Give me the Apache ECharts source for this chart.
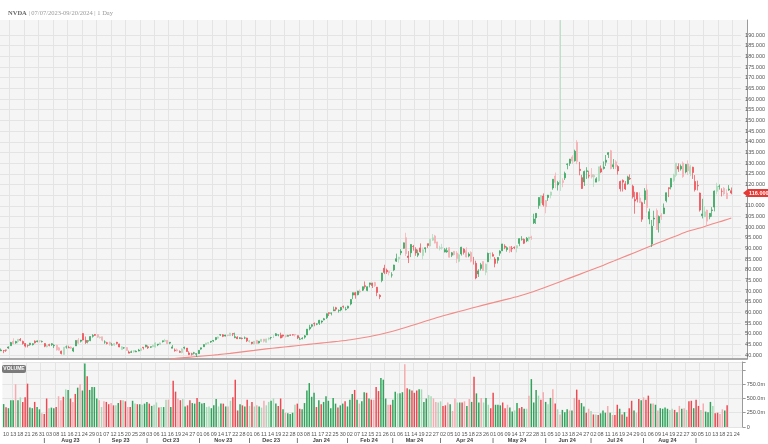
<!DOCTYPE html>
<html><head><meta charset="utf-8">
<script src="https://cdn.jsdelivr.net/npm/echarts@6/dist/echarts.min.js"></script>
<style>html,body{margin:0;padding:0;background:#fff}#c{width:768px;height:444px}</style>
</head><body><div id="c"></div>
<script>
// ---- DATA ----
const tradingDays = [
 '2023-07:7 10 11 12 13 14 17 18 19 20 21 24 25 26 27 28 31',
 '2023-08:1 2 3 4 7 8 9 10 11 14 15 16 17 18 21 22 23 24 25 28 29 30 31',
 '2023-09:1 5 6 7 8 11 12 13 14 15 18 19 20 21 22 25 26 27 28 29',
 '2023-10:2 3 4 5 6 9 10 11 12 13 16 17 18 19 20 23 24 25 26 27 30 31',
 '2023-11:1 2 3 6 7 8 9 10 13 14 15 16 17 20 21 22 24 27 28 29 30',
 '2023-12:1 4 5 6 7 8 11 12 13 14 15 18 19 20 21 22 26 27 28 29',
 '2024-01:2 3 4 5 8 9 10 11 12 16 17 18 19 22 23 24 25 26 29 30 31',
 '2024-02:1 2 5 6 7 8 9 12 13 14 15 16 20 21 22 23 26 27 28',
 '2024-03:1 4 5 6 7 8 11 12 13 14 15 18 19 20 21 22 25 26 27 28',
 '2024-04:1 2 3 4 5 8 9 10 11 12 15 16 17 18 19 22 23 24 25 26 29 30',
 '2024-05:1 2 3 6 7 8 9 10 13 14 15 16 17 20 21 22 23 24 28 29 30 31',
 '2024-06:3 4 5 6 7 10 11 12 13 14 17 18 20 21 24 25 26 27 28',
 '2024-07:1 2 3 5 8 9 10 11 12 15 16 17 18 19 22 23 24 25 26 29 30 31',
 '2024-08:1 2 5 6 7 8 9 12 13 14 15 16 19 20 21 22 23 26 27 28 29 30',
 '2024-09:3 4 5 6 9 10 11 12 13 16 17 18 19 20'
];
const blankDays = ['2024-09-21','2024-09-22','2024-09-23','2024-09-24','2024-09-25','2024-09-26'];

const opens = [
 42.1,42.2,42.5,43.4,44.5,46.6,45.8,46.4,47.4,46.5,45.5,44.7,44.9,45.0,46.6,46.4,46.8,
 46.4,45.5,44.0,45.0,45.0,44.5,44.7,43.5,41.9,40.4,43.9,43.6,43.9,42.0,44.4,47.2,46.6,50.2,47.0,46.6,46.9,48.9,49.7,
 49.7,48.2,48.7,46.2,45.9,46.1,44.8,44.8,46.1,45.3,42.7,43.5,43.6,41.5,41.4,41.6,41.6,42.0,42.2,43.8,
 44.0,44.0,43.8,44.0,43.9,44.9,45.0,46.4,46.6,47.0,45.7,43.3,42.5,42.6,41.8,41.3,43.4,43.4,41.1,40.7,41.0,40.5,
 40.8,42.9,44.0,45.0,45.6,46.2,46.7,47.4,48.0,49.5,49.6,49.0,49.5,49.2,50.2,48.3,48.5,47.9,48.0,48.1,48.1,
 46.5,46.2,45.4,47.0,45.8,46.6,47.6,46.1,47.6,48.3,48.1,49.2,49.6,49.4,49.5,49.2,48.9,49.5,49.6,49.8,
 49.2,47.5,47.7,48.5,49.5,52.4,53.6,54.9,54.6,55.0,55.6,56.6,57.7,59.9,59.7,60.8,62.3,60.9,61.2,62.9,61.4,
 62.1,64.0,68.2,69.3,68.4,70.1,70.5,72.6,70.4,73.2,73.8,74.1,71.9,68.1,75.0,80.8,79.8,79.3,77.6,
 80.0,84.1,85.2,88.0,90.1,95.1,86.5,88.0,91.0,89.6,86.9,90.3,86.7,89.9,92.3,91.2,93.9,95.9,93.1,90.0,
 90.3,88.4,88.5,90.4,86.9,88.7,87.9,84.0,87.5,89.7,89.0,86.5,88.2,84.9,83.1,78.1,80.7,83.9,78.9,83.8,87.6,87.2,
 85.1,84.5,87.8,89.0,91.1,89.5,90.8,90.2,90.6,90.3,92.4,94.3,94.3,93.6,94.4,95.4,102.0,104.4,110.2,111.3,114.6,112.5,
 113.9,115.0,118.4,124.0,119.8,120.4,121.8,123.1,129.4,129.9,132.9,131.1,139.8,127.1,123.2,121.2,126.1,124.1,124.6,
 123.5,121.1,121.7,127.4,127.5,130.4,134.0,135.8,128.3,130.6,128.4,121.4,121.9,120.3,120.4,122.8,119.2,113.0,116.2,113.7,111.5,112.9,
 117.5,103.8,92.1,103.8,107.8,102.0,105.6,106.3,112.4,118.5,118.8,121.9,124.3,128.4,127.3,130.0,125.9,129.6,125.1,128.1,121.4,119.5,
 116.0,105.4,104.9,108.0,104.9,107.8,109.4,116.8,119.1,116.8,118.2,115.9,117.4,117.1
];
const highs = [
 43.2,42.5,42.6,44.2,46.3,48.0,46.8,47.6,48.1,46.9,45.7,45.0,45.8,45.6,47.0,47.0,46.9,
 46.9,45.7,45.0,45.4,45.7,45.2,44.9,43.9,42.2,43.8,44.6,44.5,44.2,43.7,47.0,48.1,47.2,50.3,48.8,47.1,49.0,49.9,50.0,
 49.9,48.8,48.7,47.0,46.3,46.4,45.8,45.7,46.3,45.4,44.2,43.9,43.9,42.2,42.2,42.3,42.3,43.0,43.2,43.9,
 44.9,44.6,44.1,44.9,46.1,45.3,46.1,46.9,47.7,47.1,46.2,44.8,43.2,43.2,42.3,43.3,44.1,43.4,41.9,41.2,41.6,41.0,
 42.4,43.6,45.1,45.8,46.2,46.7,47.1,48.4,48.8,49.9,49.9,49.6,49.5,50.5,50.2,50.6,48.9,48.5,48.3,48.8,48.2,
 47.2,46.2,46.7,47.2,46.7,47.6,47.6,47.8,48.3,48.6,49.4,50.4,49.7,50.6,49.6,49.3,49.6,49.7,49.8,49.9,
 49.3,48.5,48.5,49.5,52.3,54.3,54.6,55.4,55.0,56.6,56.3,57.5,59.6,60.1,60.0,62.8,62.7,61.5,62.6,63.3,62.7,
 63.2,66.3,69.4,69.7,70.2,70.9,72.2,74.6,72.2,74.0,74.0,74.4,72.0,68.6,78.6,82.4,80.6,79.6,78.9,
 82.4,87.6,86.1,89.7,92.8,97.4,88.8,92.0,91.7,90.6,89.5,92.4,90.5,90.5,92.3,94.7,96.8,96.4,93.2,91.3,
 92.2,90.2,90.4,90.6,88.4,88.8,88.8,87.5,90.8,90.1,90.6,88.2,88.7,86.1,84.3,80.3,83.3,84.0,83.0,88.1,88.1,88.2,
 86.0,86.0,89.2,92.2,92.0,91.0,91.0,91.2,91.0,91.5,94.8,95.8,94.7,95.4,95.5,96.0,106.3,106.5,114.0,115.0,115.8,112.7,
 115.1,116.6,122.5,125.6,121.7,197.0,122.9,126.0,129.9,132.0,133.7,136.3,140.8,130.6,124.5,126.5,128.1,126.4,127.7,
 124.8,123.4,128.3,128.9,130.8,133.8,135.1,136.2,131.9,131.4,129.0,121.8,122.4,121.6,124.1,124.7,119.9,116.6,116.2,116.3,112.0,118.3,
 120.2,108.7,103.4,107.7,108.8,105.5,106.6,111.1,116.2,118.6,123.0,125.0,130.0,129.9,129.4,130.8,129.6,131.3,129.2,128.3,124.4,121.8,
 116.2,113.3,109.7,108.2,106.6,109.4,117.2,120.8,120.0,118.2,118.8,117.7,119.7,118.6
];
const lows = [
 42.0,41.0,41.6,43.0,44.5,45.2,45.4,45.6,46.6,45.0,43.7,43.7,44.5,44.6,45.5,46.1,46.0,
 46.0,43.8,43.7,44.2,44.4,43.4,42.2,42.2,40.4,40.3,43.1,43.4,43.0,41.5,44.4,45.3,46.0,47.0,45.3,45.6,46.6,48.3,49.1,
 48.1,47.8,46.5,45.4,45.1,44.5,44.6,44.4,45.1,43.8,42.7,43.0,42.2,41.0,41.1,41.2,41.5,41.9,42.0,42.7,
 43.7,43.0,43.4,43.8,43.6,44.3,44.9,46.0,46.3,45.3,45.2,43.3,41.7,41.8,41.1,40.9,42.8,41.7,40.1,39.9,40.4,39.2,
 40.6,42.6,43.9,44.8,45.2,45.8,46.3,47.0,47.8,49.1,48.5,48.8,48.9,49.0,49.0,48.0,47.6,47.6,47.5,47.6,46.2,
 45.9,45.1,45.1,45.4,45.5,46.2,46.0,46.0,47.0,47.4,48.1,49.1,48.9,48.0,48.3,48.3,48.8,49.1,49.3,48.8,
 47.6,47.3,47.5,47.8,49.5,51.7,53.0,53.6,54.1,54.2,54.9,56.4,57.0,58.4,58.7,60.8,60.7,60.0,60.6,62.0,61.0,
 61.8,63.4,66.3,66.5,68.1,69.1,70.1,71.2,70.0,71.8,71.5,72.0,67.7,66.3,74.2,78.0,78.1,77.4,76.4,
 79.4,83.7,83.4,86.9,89.9,86.5,83.2,86.0,89.0,86.6,86.0,88.0,85.0,88.1,90.3,91.1,93.6,92.4,89.9,89.1,
 89.5,88.2,88.0,85.8,86.0,86.8,83.2,83.6,86.7,87.2,85.8,85.9,83.5,82.5,75.6,76.7,79.7,79.6,77.5,83.8,85.2,86.3,
 81.2,83.0,86.6,88.8,89.7,88.5,87.9,88.3,89.7,88.2,91.1,93.7,92.1,93.0,93.2,94.0,101.5,101.5,108.6,110.0,109.7,106.5,
 112.3,113.5,117.5,118.3,117.2,117.0,118.7,122.1,127.1,128.7,129.6,130.7,129.5,124.3,117.9,119.3,122.6,122.9,122.8,
 118.8,121.1,121.4,125.3,127.0,128.7,132.4,127.1,127.2,127.2,124.6,116.7,116.7,117.4,119.9,122.1,113.4,106.3,111.6,111.3,102.5,110.9,
 106.8,101.4,90.7,100.6,98.7,97.5,103.4,106.3,111.6,114.1,117.7,121.2,123.4,125.9,126.5,123.1,125.2,124.4,123.9,122.6,116.7,117.2,
 107.3,104.1,104.8,100.9,103.7,104.9,107.4,115.4,117.6,114.4,114.8,113.2,117.0,115.4
];
const closes = [
 42.50,42.18,42.41,43.90,45.98,45.47,46.46,47.49,47.08,45.52,44.31,44.61,45.68,45.45,45.90,46.75,46.73,
 46.51,44.27,44.52,44.68,45.42,44.66,42.55,42.39,40.86,43.75,43.94,43.48,43.34,43.30,46.97,45.67,47.12,47.16,46.02,46.84,48.78,49.26,49.36,
 48.51,48.55,47.06,46.24,45.57,45.18,44.87,45.49,45.58,43.90,43.97,43.52,42.24,41.02,41.61,42.22,41.91,42.47,43.09,43.50,
 44.78,43.52,44.04,44.69,45.76,45.27,45.80,46.81,46.95,45.46,46.10,43.94,42.20,42.10,41.39,42.98,43.66,41.78,40.33,40.50,41.16,40.78,
 42.33,43.51,45.01,45.75,45.96,46.57,46.95,48.34,48.62,49.66,48.89,49.48,49.30,50.41,49.94,48.72,47.78,48.24,47.82,48.14,46.77,
 46.77,45.51,46.57,45.50,46.60,47.51,46.63,47.66,48.09,48.35,48.89,50.08,49.60,48.11,48.99,48.83,49.28,49.42,49.52,49.52,
 48.17,47.57,48.00,49.10,52.25,53.14,54.35,54.82,54.71,56.38,56.05,57.11,59.49,59.65,59.87,61.36,61.62,61.03,62.47,62.77,61.53,
 63.03,66.16,69.33,68.22,70.10,69.64,72.13,72.25,72.13,73.90,72.66,72.61,69.45,67.47,78.54,78.82,79.09,78.70,77.66,
 82.28,85.24,85.96,88.70,92.67,87.53,85.77,91.91,90.89,87.94,87.84,88.46,89.40,90.37,91.44,94.29,95.00,92.56,90.25,90.36,
 90.36,89.45,88.96,85.91,88.01,87.13,85.35,87.04,90.62,88.19,86.00,87.42,84.04,84.67,76.20,79.52,82.42,79.68,82.63,87.74,87.76,86.40,
 83.04,85.82,88.79,92.14,90.55,90.41,88.75,89.88,90.40,91.36,94.63,94.36,92.48,94.78,95.39,94.95,103.80,106.47,113.90,114.83,110.50,109.63,
 115.00,116.44,122.44,121.00,120.89,121.79,120.91,125.20,129.61,131.88,130.98,135.58,130.78,126.57,118.11,126.09,126.40,123.99,123.54,
 124.30,122.67,128.28,125.83,128.20,131.38,134.91,127.40,129.24,128.44,126.36,117.99,121.09,117.93,123.54,122.59,114.25,112.28,113.06,111.59,103.73,117.02,
 109.21,107.27,100.45,104.25,98.91,104.97,104.75,109.02,116.14,118.08,122.86,124.58,130.00,127.25,128.50,123.74,129.37,126.46,128.30,125.61,117.59,119.37,
 108.00,106.21,107.21,102.83,106.47,108.10,116.91,119.14,119.10,116.78,115.59,113.37,117.87,116.00
];
// volume in millions
const volumes = [
 402,345,330,470,470,750,470,520,440,520,760,340,330,440,350,310,240,
 230,500,330,340,330,350,540,470,530,660,650,500,440,580,690,750,640,1115,890,650,700,700,500,
 470,350,450,440,400,420,380,380,420,470,470,450,350,350,460,410,400,400,390,410,
 440,410,370,390,430,340,350,350,480,480,350,810,620,500,470,490,360,380,470,420,410,510,
 440,410,420,350,360,330,380,490,360,410,410,360,360,460,520,830,290,400,380,360,480,
 370,440,360,380,360,340,460,380,440,460,500,410,370,500,310,250,240,230,250,390,
 410,320,310,420,640,770,530,600,350,470,400,440,540,460,330,510,410,340,380,410,450,
 360,480,580,650,480,410,450,610,600,500,480,480,700,630,860,830,500,390,390,
 480,620,590,590,610,1100,680,660,640,600,640,660,660,440,500,560,540,500,440,430,
 450,370,380,430,400,280,500,430,430,430,450,370,490,440,880,590,430,510,430,510,390,330,
 600,390,390,380,430,330,390,340,270,290,420,330,350,320,320,550,840,430,650,550,480,610,
 440,400,510,660,410,310,220,300,260,310,290,290,510,655,480,420,360,250,320,
 280,220,220,210,240,290,250,370,250,210,210,390,320,220,260,180,330,460,290,250,490,470,
 520,480,550,410,410,390,290,330,320,340,320,300,320,300,260,370,320,330,300,450,460,330,
 480,370,300,410,270,260,440,370,240,250,230,310,290,380
];
// 200-day moving average, read at sampled dates
const maDates = ['2023-10-16','2023-10-23','2023-10-30','2023-11-06','2023-11-13','2023-11-20','2023-11-28',
 '2023-12-05','2023-12-12','2023-12-19','2023-12-27','2024-01-04','2024-01-11','2024-01-19','2024-01-26',
 '2024-02-02','2024-02-09','2024-02-16','2024-02-26','2024-03-05','2024-03-12','2024-03-19','2024-03-26',
 '2024-04-03','2024-04-10','2024-04-17','2024-04-24','2024-05-01','2024-05-08','2024-05-15','2024-05-22',
 '2024-05-30','2024-06-06','2024-06-13','2024-06-21','2024-06-28','2024-07-08','2024-07-15','2024-07-22',
 '2024-07-29','2024-08-05','2024-08-12','2024-08-19','2024-08-26','2024-09-03','2024-09-10','2024-09-17','2024-09-20'];
const maValues = [38.3,38.8,39.3,39.8,40.3,40.9,41.6,
 42.3,43.0,43.6,44.2,44.8,45.4,46.0,46.6,
 47.3,48.2,49.3,50.6,52.1,53.8,55.6,57.4,
 59.0,60.5,62.0,63.5,64.9,66.3,67.8,69.5,
 71.5,73.6,75.8,77.9,80.1,82.2,84.5,86.8,
 89.1,91.4,93.7,95.9,98.1,99.6,101.5,103.2,104.3];
const yTickMin = 40, yTickMax = 190, yTickStep = 5;
const volTickStep = 250;

// ---- BUILD ----
const cats = [];
tradingDays.forEach(s => { const [ym, ds] = s.split(':'); ds.split(' ').forEach(d => cats.push(ym + '-' + String(d).padStart(2,'0'))); });
const nData = cats.length;
blankDays.forEach(d => cats.push(d));

const GREEN = '#2fa35a', GREEN_L = '#a6d9b6', RED = '#ec4a52', RED_L = '#f5abb0';
const candleData = [], volData = [];
for (let i = 0; i < nData; i++) {
  const o = opens[i], c = closes[i], l = lows[i], h = highs[i];
  const prev = i > 0 ? closes[i-1] : o;
  const pale = i > 0 && Math.sign(o - prev) !== Math.sign(c - prev);
  const cUp = c >= o, vUp = c >= prev;
  const cc = cUp ? (pale ? GREEN_L : GREEN) : (pale ? RED_L : RED);
  const vc = vUp ? (pale ? GREEN_L : GREEN) : (pale ? RED_L : RED);
  candleData.push({ value: [o, c, l, h], itemStyle: { color: cc, color0: cc, borderColor: cc, borderColor0: cc } });
  volData.push({ value: volumes[i], itemStyle: { color: vc } });
}
const maData = cats.map(() => null);
maDates.forEach((d, k) => { const idx = cats.indexOf(d); if (idx >= 0) maData[idx] = maValues[k]; });

// month row labels
const MN = ['Jan','Feb','Mar','Apr','May','Jun','Jul','Aug','Sep','Oct','Nov','Dec'];
const months = [];
cats.forEach((c, i) => { const k = c.slice(0,7); if (!months.length || months[months.length-1].k !== k) months.push({k, s:i, e:i}); else months[months.length-1].e = i; });
const monthLabels = {};
months.forEach((m, j) => {
  if (j >= 1) monthLabels[m.s] = '|';
  if (j >= 1 && j <= months.length - 2) {
    const mid = Math.floor((m.s + m.e) / 2);
    monthLabels[mid] = MN[+m.k.slice(5,7) - 1] + ' ' + m.k.slice(2,4);
  }
});
const gridInt = (i) => i % 6 === 4;
const FONT = 'Liberation Sans';
const chart = echarts.init(document.getElementById('c'), null, { renderer: 'canvas' });
const splitStyle = { color: '#e4e4e4', width: 1 };
chart.setOption({
  animation: false,
  backgroundColor: '#ffffff',
  title: { text: '{b|NVDA} | 07/07/2023-09/20/2024 | 1 Day', left: 3, top: 5,
    textStyle: { fontFamily: 'Liberation Serif', fontSize: 6.5, color: '#9a9a9a', fontWeight: 'normal',
      rich: { b: { fontFamily: 'Liberation Serif', fontSize: 6.5, fontWeight: 'bold', color: '#666' } } } },
  grid: [
    { left: 0, right: 21, top: 20, bottom: 85, show: true, backgroundColor: '#f5f5f5', borderWidth: 0 },
    { left: 0, right: 21, top: 362, bottom: 17, show: true, backgroundColor: '#f5f5f5', borderWidth: 0 },
    { left: 0, right: 21, top: 35, bottom: 88.7, show: false }
  ],
  xAxis: [
    { type: 'category', gridIndex: 0, data: cats, boundaryGap: true, axisLabel: { show: false }, axisTick: { show: false },
      axisLine: { show: true, lineStyle: { color: '#8f8f8f', width: 1.5 } }, splitLine: { show: true, interval: gridInt, lineStyle: splitStyle } },
    { type: 'category', gridIndex: 1, data: cats, boundaryGap: true, axisTick: { show: false }, axisLine: { show: false },
      axisLabel: { interval: (i) => i % 3 === 1, formatter: (v) => v.slice(8), fontSize: 5.5, color: '#555', margin: 4, fontFamily: FONT },
      splitLine: { show: true, interval: gridInt, lineStyle: splitStyle } },
    { type: 'category', gridIndex: 1, data: cats, boundaryGap: true, position: 'bottom', offset: 6, axisTick: { show: false }, axisLine: { show: false },
      axisLabel: { interval: (i) => monthLabels[i] !== undefined, formatter: (v, i) => monthLabels[i] || '', fontSize: 5.5, fontWeight: 'bold', color: '#444', margin: 4, fontFamily: FONT } },
    { type: 'category', gridIndex: 2, data: cats, show: false }
  ],
  yAxis: [
    { type: 'value', gridIndex: 0, min: 38.27, max: 197.03, position: 'right', axisLabel: { show: false }, splitLine: { show: false },
      axisTick: { show: false }, axisLine: { show: true, lineStyle: { color: '#9a9a9a' } } },
    { type: 'value', gridIndex: 1, min: 0, max: 1140, interval: volTickStep, position: 'right',
      axisLabel: { formatter: (v) => v === 0 ? '0' : (v >= 1000 ? '' : v.toFixed(1) + 'm'), fontSize: 5.5, color: '#555', margin: 4, fontFamily: FONT },
      splitLine: { lineStyle: splitStyle }, axisTick: { show: true, length: 3, lineStyle: { color: '#9a9a9a' } },
      axisLine: { show: true, lineStyle: { color: '#9a9a9a' } } },
    { type: 'value', gridIndex: 2, min: yTickMin, max: yTickMax, interval: yTickStep, position: 'right',
      axisLabel: { formatter: (v) => v.toFixed(3), fontSize: 5.5, color: '#555', margin: 4, fontFamily: FONT },
      splitLine: { lineStyle: splitStyle }, axisTick: { show: false }, axisLine: { show: false } }
  ],
  series: [
    { type: 'line', xAxisIndex: 0, yAxisIndex: 0, data: maData, connectNulls: true, smooth: 0.3, symbol: 'none',
      lineStyle: { color: '#f28a86', width: 1.1 }, z: 2 },
    { type: 'candlestick', xAxisIndex: 0, yAxisIndex: 0, data: candleData, barWidth: '62%', itemStyle: { borderWidth: 0.7 }, z: 3 },
    { type: 'bar', xAxisIndex: 1, yAxisIndex: 1, data: volData, barWidth: '62%' }
  ]
});
const lastClose = closes[nData - 1];
const ty = chart.convertToPixel({ yAxisIndex: 0 }, lastClose);
chart.setOption({
  graphic: [
    { type: 'rect', left: 2, top: 365, shape: { width: 24, height: 8, r: 2 }, style: { fill: '#7b7b7b' }, z: 10 },
    { type: 'text', x: 14, y: 369, style: { text: 'VOLUME', fill: '#fff', font: 'bold 5px "Liberation Sans"', align: 'center', verticalAlign: 'middle' }, z: 11 },
    { type: 'polygon', shape: { points: [[743, ty], [748, ty - 4], [768, ty - 4], [768, ty + 4], [748, ty + 4]] }, style: { fill: '#e53935' }, z: 10 },
    { type: 'text', x: 749, y: ty, style: { text: lastClose.toFixed(3), fill: '#fff', font: 'bold 5.5px "Liberation Sans"', verticalAlign: 'middle' }, z: 11 }
  ]
});
</script></body></html>
